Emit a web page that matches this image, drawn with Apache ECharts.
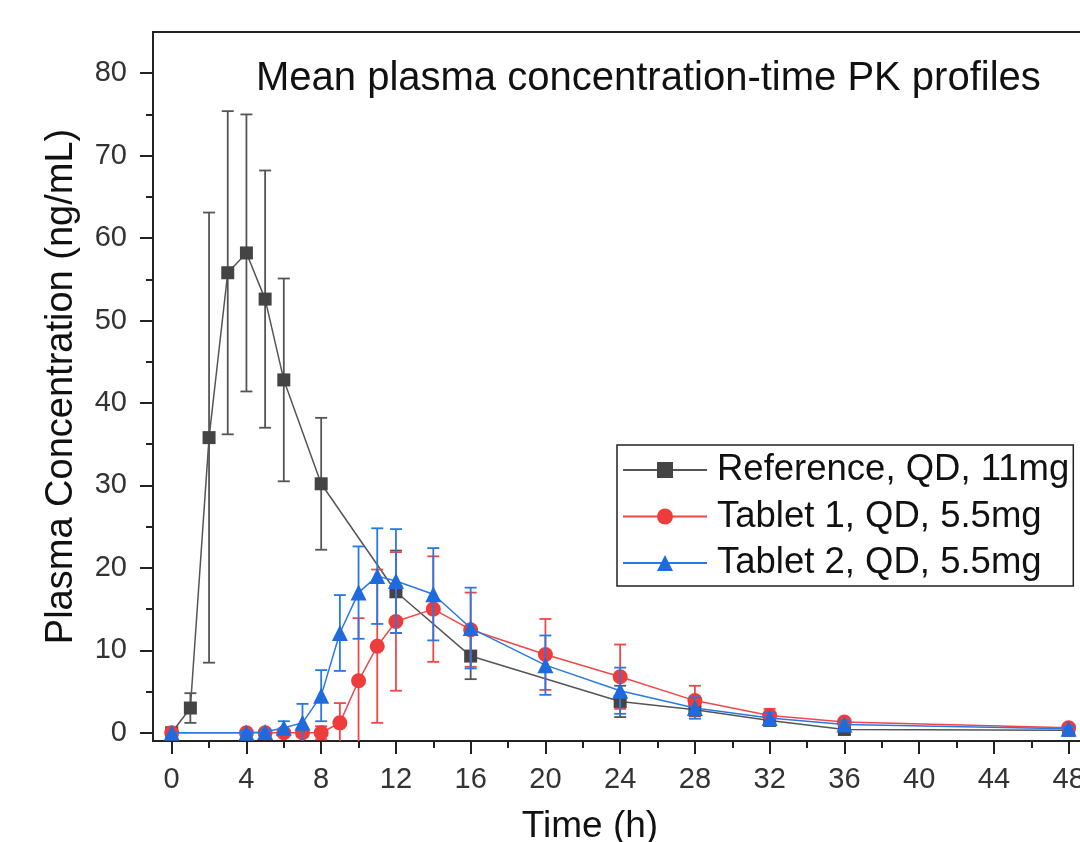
<!DOCTYPE html>
<html>
<head>
<meta charset="utf-8">
<script src="https://cdn.jsdelivr.net/npm/echarts@6/dist/echarts.min.js"></script>
<style>
  html, body { margin: 0; padding: 0; background: #fff; }
  #main { width: 1080px; height: 842px; }
</style>
</head>
<body>
<div id="main"></div>
<script>
// sampling times (h)
var refTime = [0, 1, 2, 3, 4, 5, 6, 8, 12, 16, 24, 28, 32, 36, 48];
var tabTime = [0, 4, 5, 6, 7, 8, 9, 10, 11, 12, 14, 16, 20, 24, 28, 32, 36, 48];

// mean and SD (ng/mL)
var refMean  = [0, 3.0, 35.8, 55.8, 58.2, 52.6, 42.8, 30.2, 17.1, 9.3, 3.8, 2.8, 1.5, 0.4, 0.3];
var refSd    = [0, 1.8, 27.3, 19.6, 16.8, 15.6, 12.3, 8.0, 5.0, 2.8, 1.9, 0.8, 0.5, 0.3, 0.2];
var tab1Mean = [0, 0, 0, 0, 0, 0, 1.2, 6.3, 10.5, 13.5, 15.0, 12.5, 9.5, 6.8, 3.9, 2.1, 1.3, 0.6];
var tab1Sd   = [0, 0, 0, 0.3, 0.5, 0.8, 2.4, 7.6, 9.3, 8.4, 6.4, 4.5, 4.3, 3.9, 1.8, 0.8, 0.4, 0.3];
var tab2Mean = [0, 0, 0.1, 0.6, 1.2, 4.5, 12.1, 17.0, 19.0, 18.4, 16.8, 12.7, 8.2, 5.1, 3.0, 1.8, 1.0, 0.5];
var tab2Sd   = [0, 0.2, 0.3, 0.8, 2.3, 3.1, 4.6, 5.6, 5.8, 6.3, 5.6, 4.9, 3.6, 2.8, 1.3, 0.6, 0.4, 0.3];

// tick labels
var xMajor = [0, 4, 8, 12, 16, 20, 24, 28, 32, 36, 40, 44, 48];
var xMinor = [2, 6, 10, 14, 18, 22, 26, 30, 34, 38, 42, 46];
var yMajor = [0, 10, 20, 30, 40, 50, 60, 70, 80];
var yMinor = [5, 15, 25, 35, 45, 55, 65, 75];

var seriesNames = ['Reference, QD, 11mg', 'Tablet 1, QD, 5.5mg', 'Tablet 2, QD, 5.5mg'];

var SANS = '"Liberation Sans", Arial, sans-serif';
var AX = '#222';

function pairs(t, v) {
  return t.map(function (x, i) { return [x, v[i]]; });
}

// error bars as a custom series (vertical line + caps)
function errorSeries(name, color, t, m, sd, z) {
  return {
    type: 'custom',
    name: name,
    z: z,
    clip: true,
    encode: { x: 0, y: [1, 2] },
    data: t.map(function (x, i) { return [x, m[i] - sd[i], m[i] + sd[i], sd[i]]; }),
    renderItem: function (params, api) {
      if (api.value(3) <= 0) return { type: 'group', children: [] };
      var x = api.value(0);
      var lo = api.coord([x, api.value(1)]);
      var hi = api.coord([x, api.value(2)]);
      var w = 6;
      var st = { stroke: color, lineWidth: 1.8 };
      return {
        type: 'group',
        children: [
          { type: 'line', shape: { x1: lo[0], y1: lo[1], x2: hi[0], y2: hi[1] }, style: st },
          { type: 'line', shape: { x1: hi[0] - w, y1: hi[1], x2: hi[0] + w, y2: hi[1] }, style: st },
          { type: 'line', shape: { x1: lo[0] - w, y1: lo[1], x2: lo[0] + w, y2: lo[1] }, style: st }
        ]
      };
    }
  };
}

function lineSeries(name, lineColor, fill, symbol, size, t, m, z) {
  return {
    type: 'line',
    name: name,
    z: z,
    data: pairs(t, m),
    symbol: symbol,
    symbolSize: size,
    showAllSymbol: true,
    lineStyle: { color: lineColor, width: 1.5 },
    itemStyle: { color: fill },
    emphasis: { disabled: true }
  };
}

var chart = echarts.init(document.getElementById('main'), null, { renderer: 'canvas' });

chart.setOption({
  animation: false,
  backgroundColor: '#fff',
  title: {
    text: 'Mean plasma concentration-time PK profiles',
    left: 256,
    top: 59,
    padding: 0,
    textStyle: { fontFamily: SANS, fontSize: 40, fontWeight: 'normal', color: '#111' }
  },
  legend: {
    orient: 'vertical',
    left: 617,
    top: 445,
    padding: [5, 4, 3, 5],
    itemWidth: 84,
    itemHeight: 20,
    itemGap: 6.5,
    borderColor: '#222',
    borderWidth: 1.5,
    backgroundColor: '#fff',
    data: seriesNames,
    textStyle: { fontFamily: SANS, fontSize: 36.5, lineHeight: 40, color: '#111', padding: [0, 0, 0, 5] }
  },
  grid: {
    left: 153,
    top: 32,
    width: 953,
    height: 709,
    outerBoundsMode: 'none',
    containLabel: false,
    show: true,
    borderColor: AX,
    borderWidth: 2
  },
  xAxis: [
    {
      type: 'value',
      min: -1,
      max: 50,
      name: 'Time (h)',
      nameLocation: 'middle',
      nameGap: 67,
      nameTextStyle: { fontFamily: SANS, fontSize: 37, color: '#111', padding: [0, 79, 0, 0] },
      axisLine: { onZero: false, lineStyle: { color: AX, width: 2 } },
      axisTick: { customValues: xMajor, length: 13, lineStyle: { color: AX, width: 2 } },
      axisLabel: { customValues: xMajor, margin: 24, fontFamily: SANS, fontSize: 29, color: '#333' },
      splitLine: { show: false }
    },
    {
      type: 'value',
      min: -1,
      max: 50,
      position: 'bottom',
      axisLine: { show: false, onZero: false },
      axisTick: { customValues: xMinor, length: 7, lineStyle: { color: AX, width: 2 } },
      axisLabel: { show: false },
      splitLine: { show: false }
    }
  ],
  yAxis: [
    {
      type: 'value',
      min: -1,
      max: 85,
      name: 'Plasma Concentration (ng/mL)',
      nameLocation: 'middle',
      nameGap: 72,
      nameTextStyle: { fontFamily: SANS, fontSize: 38, color: '#111' },
      axisLine: { onZero: false, lineStyle: { color: AX, width: 2 } },
      axisTick: { customValues: yMajor, length: 13, lineStyle: { color: AX, width: 2 } },
      axisLabel: { customValues: yMajor, margin: 26, fontFamily: SANS, fontSize: 29, color: '#333' },
      splitLine: { show: false }
    },
    {
      type: 'value',
      min: -1,
      max: 85,
      position: 'left',
      axisLine: { show: false, onZero: false },
      axisTick: { customValues: yMinor, length: 7, lineStyle: { color: AX, width: 2 } },
      axisLabel: { show: false },
      splitLine: { show: false }
    }
  ],
  series: [
    errorSeries('Reference SD', '#555', refTime, refMean, refSd, 2),
    lineSeries(seriesNames[0], '#555', '#444', 'rect', 13, refTime, refMean, 2),
    errorSeries('Tablet 1 SD', '#F04848', tabTime, tab1Mean, tab1Sd, 3),
    lineSeries(seriesNames[1], '#F04848', '#EE3B3B', 'circle', 15, tabTime, tab1Mean, 3),
    errorSeries('Tablet 2 SD', '#2A78E4', tabTime, tab2Mean, tab2Sd, 4),
    lineSeries(seriesNames[2], '#2A78E4', '#1F6BDE', 'triangle', 16, tabTime, tab2Mean, 4)
  ]
});
</script>
</body>
</html>
